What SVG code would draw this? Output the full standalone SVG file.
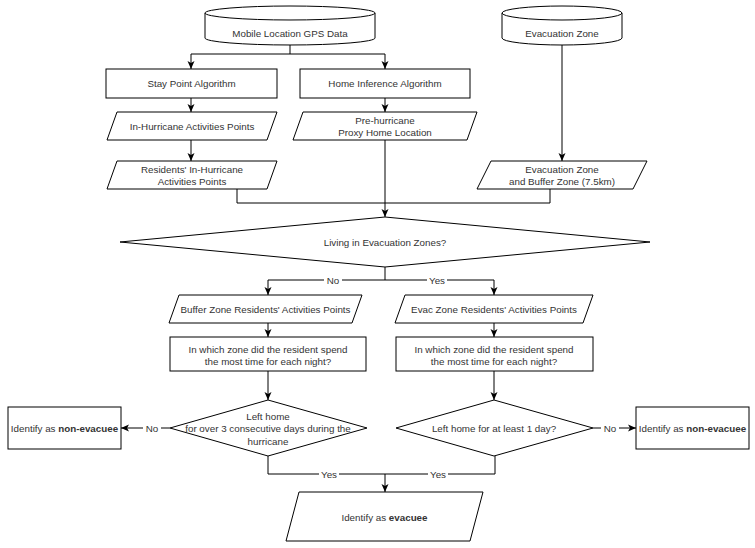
<svg xmlns="http://www.w3.org/2000/svg" width="755" height="548" viewBox="0 0 755 548">
<defs>
<marker id="arr" markerUnits="userSpaceOnUse" markerWidth="10" markerHeight="10" refX="8" refY="4" orient="auto">
<path d="M0,0.5 L8,4 L0,7.5 L2,4 z" fill="#000"/>
</marker>
<style>
.s{fill:#fff;stroke:#000;stroke-width:1}
.c{fill:none;stroke:#000;stroke-width:1}
.a{fill:none;stroke:#000;stroke-width:1;marker-end:url(#arr)}
text{font-family:"Liberation Sans",Arial,sans-serif;font-size:9.8px;fill:#333;text-anchor:middle;dominant-baseline:central}
.lb{fill:#fff;stroke:none}
</style>
</defs>
<rect width="755" height="548" fill="#fff"/>
<g id="connectors">
<path class="c" d="M290,45 V54 H191"/>
<path class="a" d="M191,54 V69"/>
<path class="a" d="M290,54 H385 V69"/>
<path class="a" d="M191,98 V112"/>
<path class="a" d="M385,98 V112"/>
<path class="a" d="M191,140 V161"/>
<path class="a" d="M562,45 V161"/>
<path class="c" d="M237,189 V203 H550 V189"/>
<path class="a" d="M385,140 V217"/>
<path class="c" d="M385,267 V280"/>
<path class="a" d="M385,280 H268 V295"/>
<path class="a" d="M385,280 H494 V295"/>
<path class="a" d="M268,323 V337"/>
<path class="a" d="M494,323 V337"/>
<path class="a" d="M268,371 V400"/>
<path class="a" d="M494,371 V400"/>
<path class="a" d="M170,428 H121"/>
<path class="a" d="M593,428 H636"/>
<path class="c" d="M268,456 V474 H495 V456"/>
<path class="a" d="M385,474 V492"/>
<rect class="lb" x="324" y="274" width="18" height="12"/>
<text x="333" y="280">No</text>
<rect class="lb" x="427" y="274" width="20" height="12"/>
<text x="437" y="280">Yes</text>
<rect class="lb" x="143" y="422" width="18" height="12"/>
<text x="152" y="428">No</text>
<rect class="lb" x="601" y="422" width="18" height="12"/>
<text x="610" y="428">No</text>
<rect class="lb" x="319" y="468" width="20" height="12"/>
<text x="329" y="474">Yes</text>
<rect class="lb" x="428" y="468" width="20" height="12"/>
<text x="438" y="474">Yes</text>
</g>
<g id="gps">
<path class="s" d="M205,13 a85,7 0 0 1 170,0 v25 a85,7 0 0 1 -170,0 z"/>
<path class="c" d="M205,13 a85,7 0 0 0 170,0"/>
<text x="290" y="33">Mobile Location GPS Data</text>
</g>
<g id="evaczone">
<path class="s" d="M502,13 a60,7 0 0 1 120,0 v25 a60,7 0 0 1 -120,0 z"/>
<path class="c" d="M502,13 a60,7 0 0 0 120,0"/>
<text x="562" y="33">Evacuation Zone</text>
</g>
<g id="staypoint">
<rect class="s" x="106" y="69" width="171" height="29"/>
<text x="191.5" y="83.5">Stay Point Algorithm</text>
</g>
<g id="homeinf">
<rect class="s" x="300" y="69" width="170" height="29"/>
<text x="385" y="83.5">Home Inference Algorithm</text>
</g>
<g id="inhurr">
<path class="s" d="M117,112 H277 L267,140 H107 z"/>
<text x="192" y="126">In-Hurricane Activities Points</text>
</g>
<g id="prehome">
<path class="s" d="M303,112 H477 L467,140 H293 z"/>
<text x="385" y="120.5">Pre-hurricane</text>
<text x="385" y="132.5">Proxy Home Location</text>
</g>
<g id="residents">
<path class="s" d="M117,161 H277 L267,189 H107 z"/>
<text x="192" y="169.5">Residents' In-Hurricane</text>
<text x="192" y="181.5">Activities Points</text>
</g>
<g id="evacbuffer">
<path class="s" d="M491,161 H647 L633,189 H477 z"/>
<text x="562" y="169.5">Evacuation Zone</text>
<text x="562" y="181.5">and Buffer Zone (7.5km)</text>
</g>
<g id="living">
<path class="s" d="M385,217 L650,242 L385,267 L120,242 z"/>
<text x="385" y="242">Living in Evacuation Zones?</text>
</g>
<g id="bufferpts">
<path class="s" d="M179,295 H362 L352,323 H169 z"/>
<text x="265.5" y="309">Buffer Zone Residents' Activities Points</text>
</g>
<g id="evacpts">
<path class="s" d="M405,295 H593 L583,323 H395 z"/>
<text x="494" y="309">Evac Zone Residents' Activities Points</text>
</g>
<g id="zoneleft">
<rect class="s" x="170" y="337" width="196" height="34"/>
<text x="268" y="349">In which zone did the resident spend</text>
<text x="268" y="361.5">the most time for each night?</text>
</g>
<g id="zoneright">
<rect class="s" x="396" y="337" width="197" height="34"/>
<text x="494" y="349">In which zone did the resident spend</text>
<text x="494" y="361.5">the most time for each night?</text>
</g>
<g id="leftdiamond">
<path class="s" d="M268,400 L367,428 L268,456 L170,428 z"/>
<text x="268" y="416">Left home</text>
<text x="268" y="428.5">for over 3 consecutive days during the</text>
<text x="268" y="441">hurricane</text>
</g>
<g id="rightdiamond">
<path class="s" d="M494,400 L593,428 L494,456 L396,428 z"/>
<text x="494" y="428">Left home for at least 1 day?</text>
</g>
<g id="nonevacleft">
<rect class="s" x="8" y="407" width="113" height="42"/>
<text x="64.5" y="428">Identify as <tspan font-weight="bold">non-evacuee</tspan></text>
</g>
<g id="nonevacright">
<rect class="s" x="636" y="407" width="113" height="42"/>
<text x="692.5" y="428">Identify as <tspan font-weight="bold">non-evacuee</tspan></text>
</g>
<g id="evacuee">
<path class="s" d="M299,492 H483 L470,541 H286 z"/>
<text x="384.5" y="517">Identify as <tspan font-weight="bold">evacuee</tspan></text>
</g>
</svg>
